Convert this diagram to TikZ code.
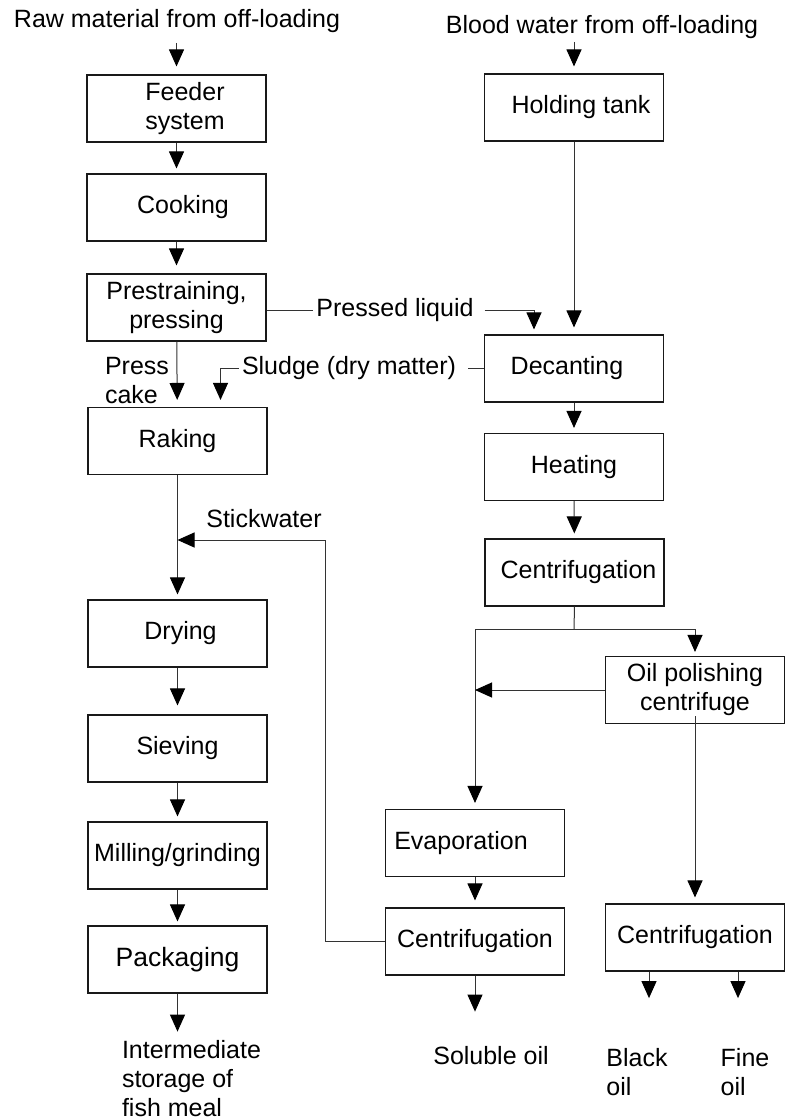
\documentclass[tikz,border=0pt]{standalone}
\usepackage{fontspec}
\setmainfont{Liberation Sans}
\usetikzlibrary{arrows.meta, positioning}

\begin{document}
\begin{tikzpicture}[
    x=1pt, y=-1pt,
    every node/.style={font=\fontsize{25}{29}\selectfont, inner sep=3pt},
    box/.style={draw=black!90, line width=1.1pt, minimum width=179pt, minimum height=67pt,
                inner sep=0pt, align=center},
    link/.style={line width=1pt, black!80},
    arr/.style={line width=1pt, black!80,
                -{Triangle[length=17pt, width=15pt, color=black]}},
    lbl/.style={align=left},
]
\useasboundingbox (0,0) rectangle (786,1120);

% ---------------------------------------------------------- inputs
\node (raw)   at (177,21) {Raw material from off-loading};
\node (blood) at (602,27) {Blood water from off-loading};

% ---------------------------------------------------------- meal line
\node[box] (feed)  at (176.5,108.5) {\hspace*{17pt}Feeder\\\hspace*{17pt}system};
\node[box] (cook)  at (176.5,207.5) {\hspace*{13pt}Cooking};
\node[box] (press) at (176.5,307.5) {Prestraining,\\pressing};
\node[box] (rake)  at (177.5,441)   {Raking};
\node[box] (dry)   at (177.5,633.5) {\hspace*{6pt}Drying};
\node[box] (siev)  at (177.5,748.5) {Sieving};
\node[box] (mill)  at (177.5,855.5) {Milling/grinding};
\node[box, font=\fontsize{26.5}{29}\selectfont] (pack) at (177.5,959.5) {Packaging};

% ---------------------------------------------------------- water and oil line
\node[box] (hold)  at (574,107.5) {\raisebox{-9pt}{\hspace*{14pt}Holding tank}};
\node[box] (deca)  at (574,368.5) {Decanting\hspace*{14pt}};
\node[box] (heat)  at (574,467)   {Heating};
\node[box] (cent)  at (574.5,572.5) {\hspace*{8pt}Centrifugation};
\node[box] (oil)   at (695,690)   {Oil polishing\\centrifuge};
\node[box] (evap)  at (475,843)   {Evaporation\hspace*{28pt}};
\node[box] (centL) at (475,941.5) {Centrifugation};
\node[box] (centR) at (695,937.5) {Centrifugation};

% ---------------------------------------------------------- flow labels
\node[lbl] (cake)   at (137,381)  {Press\\cake};
\node      (sludge) at (349,368)  {Sludge (dry matter)};
\node      (pliq)   at (395,310)  {Pressed liquid};
\node      (stick)  at (264,519)  {Stickwater};
\node[lbl] (store)  at (191.5,1079) {Intermediate\\storage of\\fish meal};
\node      (sol)    at (491,1056) {Soluble oil};
\node[lbl] (black)  at (637,1072) {Black\\oil};
\node[lbl] (fine)   at (745,1072) {Fine\\oil};

\coordinate (split)  at (574,629);
\coordinate (swturn) at (325,540);

% ---------------------------------------------------------- meal arrows
\draw[arr, shorten <=7pt, shorten >=8pt] (raw.south -| feed.north) -- (feed.north);
\draw[arr, shorten >=5pt] (feed) -- (cook);
\draw[arr, shorten >=8pt] (cook) -- (press);
\draw[arr, shorten >=7pt] (press) -- (rake);
\draw[arr, shorten >=5pt] (rake) -- (dry);
\draw[arr, shorten >=9pt] (dry) -- (siev);
\draw[arr, shorten >=5pt] (siev) -- (mill);
\draw[arr, shorten >=4pt] (mill) -- (pack);
\draw[arr, shorten >=6pt] (pack.south) -- (pack.south |- store.north);

% ---------------------------------------------------------- side streams
\draw[link] (press.east |- pliq.west) -- (pliq.west);
\draw[arr, shorten >=5pt] ([xshift=8pt]pliq.east) -| ([xshift=-40pt]deca.north);
\draw[link, shorten >=9pt] (deca.west) -- (deca.west -| sludge.east);
\draw[arr, shorten >=7pt] (sludge.west) -| ([xshift=43pt]rake.north);
\draw[arr] (centL.west) -| (swturn) -- (swturn -| rake.south);

% ---------------------------------------------------------- water arrows
\draw[arr, shorten >=7pt] (blood.south -| hold.north) -- (hold.north);
\draw[arr, shorten >=7pt] (hold) -- (deca);
\draw[arr, shorten >=5pt] (deca) -- (heat);
\draw[arr, shorten >=5pt] (heat) -- (cent);
\draw[link] (cent.south) -- (split);
\draw[arr, shorten >=4pt] (split) -| (oil.north);
\draw[arr, shorten >=6pt] (split) -| (evap.north);
\draw[arr] (oil.west) -- (oil.west -| evap.north);
\draw[arr, shorten >=6pt] ([yshift=8pt]oil.south) -- (centR.north);
\draw[arr, shorten >=7pt] (evap) -- (centL);

% ---------------------------------------------------------- products
\draw[arr, shorten >=32pt] (centL.south) -- (centL.south |- sol.north);
\draw[arr, shorten >=47pt] ([xshift=-46pt]centR.south) -- ([xshift=-46pt]centR.south |- black.north);
\draw[arr, shorten >=47pt] ([xshift=43pt]centR.south) -- ([xshift=43pt]centR.south |- fine.north);

\end{tikzpicture}
\end{document}
